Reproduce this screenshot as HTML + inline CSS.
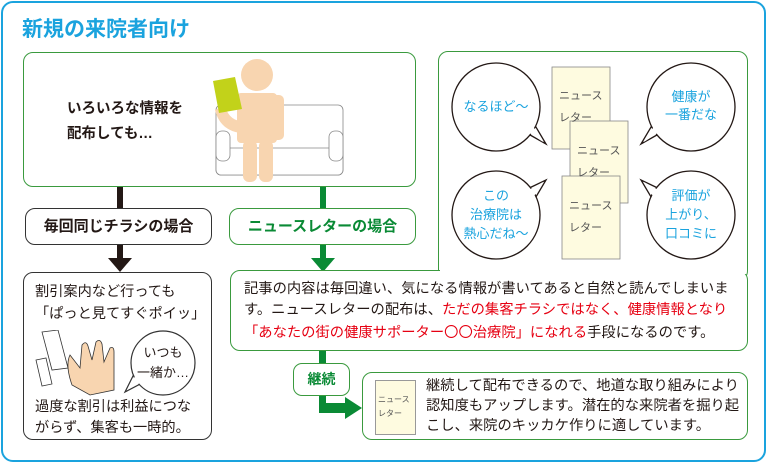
<!DOCTYPE html>
<html><head><meta charset="utf-8"><style>
body{margin:0;width:767px;height:464px;background:#fff;font-family:"Liberation Sans","Noto Sans CJK JP",sans-serif;position:relative;overflow:hidden}
.a{position:absolute;box-sizing:border-box}
.t{position:absolute;white-space:nowrap}
</style></head><body>
<div class="a" style="left:1px;top:1px;width:765px;height:461px;border:2px solid #1aa3de;border-radius:12px"></div>
<div class="t" style="left:22px;top:13px;font-size:21px;font-weight:bold;color:#1aa3de">新規の来院者向け</div>

<div class="a" style="left:117px;top:186px;width:6px;height:76px;background:#231815"></div>
<div class="a" style="left:320px;top:186px;width:6px;height:76px;background:#0a8a35"></div>
<svg class="a" style="left:0;top:0" width="767" height="464">
<polygon points="108,258 132,258 120,272" fill="#231815"/>
<polygon points="311,258 335,258 323,272" fill="#0a8a35"/>
<rect x="319" y="350" width="7" height="60" fill="#0a8a35"/>
<rect x="319" y="403" width="28" height="10" fill="#0a8a35"/>
<polygon points="345,397 362,408 345,419" fill="#0a8a35"/>
</svg>

<div class="a" style="left:23px;top:52px;width:393px;height:135px;border:1.5px solid #3a9a3e;border-radius:10px;background:#fff"></div>
<div class="t" style="left:67px;top:97px;font-size:14.5px;font-weight:bold;line-height:25px;color:#231815">いろいろな情報を<br>配布しても…</div>
<svg class="a" style="left:200px;top:55px" width="150" height="130">
<rect x="16" y="50" width="127" height="70" rx="5" fill="#fff" stroke="#888" stroke-width="0.8"/>
<rect x="16" y="93" width="127" height="27" rx="5" fill="#fff" stroke="#888" stroke-width="0.8"/>
<rect x="16" y="76" width="14" height="30" rx="6" fill="#fff" stroke="#888" stroke-width="0.8"/>
<rect x="129" y="76" width="14" height="30" rx="6" fill="#fff" stroke="#888" stroke-width="0.8"/>
<circle cx="57" cy="20" r="16" fill="#f8d5b0"/>
<rect x="37" y="38" width="40" height="50" rx="4" fill="#f8d5b0"/>
<rect x="70" y="40" width="14" height="45" rx="5" fill="#f8d5b0"/>
<rect x="43" y="85" width="14" height="42" rx="6" fill="#f8d5b0"/>
<rect x="59" y="85" width="14" height="42" rx="6" fill="#f8d5b0"/>
<path d="M15,55 Q20,75 40,78 L40,66 Q28,64 25,50 Z" fill="#f8d5b0"/>
<polygon points="13,26 35,22 42,54 19,58" fill="#c2d21a"/>
</svg>

<div class="a" style="left:25px;top:208px;width:187px;height:37px;border:1.5px solid #333;border-radius:10px;background:#fff"></div>
<div class="t" style="left:25px;top:215px;width:187px;text-align:center;font-size:15px;font-weight:bold;color:#231815">毎回同じチラシの場合</div>
<div class="a" style="left:229px;top:208px;width:187px;height:37px;border:1.5px solid #3a9a3e;border-radius:10px;background:#fff"></div>
<div class="t" style="left:229px;top:215px;width:187px;text-align:center;font-size:15px;font-weight:bold;color:#0a8a35">ニュースレターの場合</div>

<div class="a" style="left:438px;top:51px;width:310px;height:230px;border:1.5px solid #3a9a3e;border-radius:10px;background:#fff"></div>
<svg class="a" style="left:438px;top:51px" width="310" height="225">
<g fill="#fff" stroke="#231815" stroke-width="1.3">
<polygon points="85,80 108,93 92,66"/>
<polygon points="226,80 203,93 219,66"/>
<polygon points="85,140 108,129 92,156"/>
<polygon points="226,140 203,129 219,156"/>
<circle cx="58" cy="56" r="44"/>
<circle cx="253" cy="56" r="44"/>
<circle cx="58" cy="164" r="44"/>
<circle cx="253" cy="164" r="44"/>
</g>
<g fill="#fff">
<polygon points="87,79 105,91 91,69"/>
<polygon points="224,79 206,91 220,69"/>
<polygon points="87,141 105,131 91,153"/>
<polygon points="224,141 206,131 220,153"/>
</g>
<g fill="#fefbe0" stroke="#888" stroke-width="0.8">
<rect x="114" y="16" width="58" height="82"/>
<rect x="132" y="70" width="58" height="82"/>
<rect x="124" y="125" width="58" height="83"/>
</g>
</svg>
<div class="t" style="left:452px;top:96px;width:88px;text-align:center;font-size:13px;color:#1aa3de">なるほど〜</div>
<div class="t" style="left:647px;top:88px;width:88px;text-align:center;font-size:13px;line-height:18px;color:#1aa3de">健康が<br>一番だな</div>
<div class="t" style="left:452px;top:186px;width:88px;text-align:center;font-size:13px;line-height:19px;color:#1aa3de">この<br>治療院は<br>熱心だね〜</div>
<div class="t" style="left:647px;top:186px;width:88px;text-align:center;font-size:13px;line-height:19px;color:#1aa3de">評価が<br>上がり、<br>口コミに</div>
<div class="t" style="left:559px;top:85px;font-size:11px;line-height:22px;color:#555">ニュース<br>レター</div>
<div class="t" style="left:577px;top:140px;font-size:11px;line-height:22px;color:#555">ニュース<br>レター</div>
<div class="t" style="left:569px;top:195px;font-size:11px;line-height:22px;color:#555">ニュース<br>レター</div>

<div class="a" style="left:230px;top:270px;width:518px;height:81px;border:1.5px solid #3a9a3e;border-radius:10px;background:#fff"></div>
<div class="a" style="left:440px;top:266px;width:306px;height:8px;background:#fff"></div>
<div class="t" style="left:244px;top:279px;font-size:14.3px;line-height:21px;color:#231815">記事の内容は毎回違い、気になる情報が書いてあると自然と読んでしまいま<br>す。ニュースレターの配布は、<span style="color:#e60012">ただの集客チラシではなく、健康情報となり</span><br><span style="color:#e60012">「あなたの街の健康サポーター<span style="font-family:'Noto Sans CJK JP',sans-serif">〇〇</span>治療院」になれる</span>手段になるのです。</div>

<div class="a" style="left:23px;top:272px;width:189px;height:168px;border:1.5px solid #333;border-radius:10px;background:#fff"></div>
<div class="t" style="left:35px;top:281px;font-size:14.2px;line-height:22px;color:#231815">割引案内など行っても<br>「ぱっと見てすぐポイッ」</div>
<svg class="a" style="left:30px;top:330px" width="170" height="70">
<polygon points="12,2 28,0 38,38 22,40" fill="#fff" stroke="#333" stroke-width="0.8"/>
<polygon points="6,30 16,28 22,54 12,56" fill="#fff" stroke="#333" stroke-width="0.8"/>
<path d="M42,55 Q35,35 40,25 L50,38 L52,15 Q56,10 58,16 L62,30 L66,12 Q70,8 72,14 L74,32 L80,18 Q84,16 84,22 L84,60 L60,65 Z" fill="#f8d5b0" stroke="#333" stroke-width="0.8"/>
<polygon points="95,62 106,40 114,52" fill="#fff" stroke="#333" stroke-width="1.2"/>
<circle cx="133" cy="33" r="32" fill="#fff" stroke="#333" stroke-width="1.2"/>
<polygon points="97,60 107,43 112,52" fill="#fff"/>
</svg>
<div class="t" style="left:123px;top:343px;width:80px;text-align:center;font-size:13px;line-height:20px;color:#231815">いつも<br>一緒か…</div>
<div class="t" style="left:35px;top:397px;font-size:14.2px;line-height:21px;color:#231815">過度な割引は利益につな<br>がらず、集客も一時的。</div>

<div class="a" style="left:293px;top:363px;width:57px;height:33px;border:1.5px solid #3a9a3e;border-radius:9px;background:#fff"></div>
<div class="t" style="left:293px;top:369px;width:57px;text-align:center;font-size:14px;font-weight:bold;color:#0a8a35">継続</div>
<div class="a" style="left:362px;top:372px;width:386px;height:68px;border:1.5px solid #3a9a3e;border-radius:10px;background:#fff"></div>
<div class="a" style="left:375px;top:380px;width:41px;height:55px;background:#fefbe0;border:0.8px solid #999"></div>
<div class="t" style="left:378px;top:393px;font-size:8px;line-height:14px;color:#555">ニュース<br>レター</div>
<div class="t" style="left:426px;top:376px;font-size:14.3px;line-height:20px;color:#231815">継続して配布できるので、地道な取り組みにより<br>認知度もアップします。潜在的な来院者を掘り起<br>こし、来院のキッカケ作りに適しています。</div>
</body></html>
